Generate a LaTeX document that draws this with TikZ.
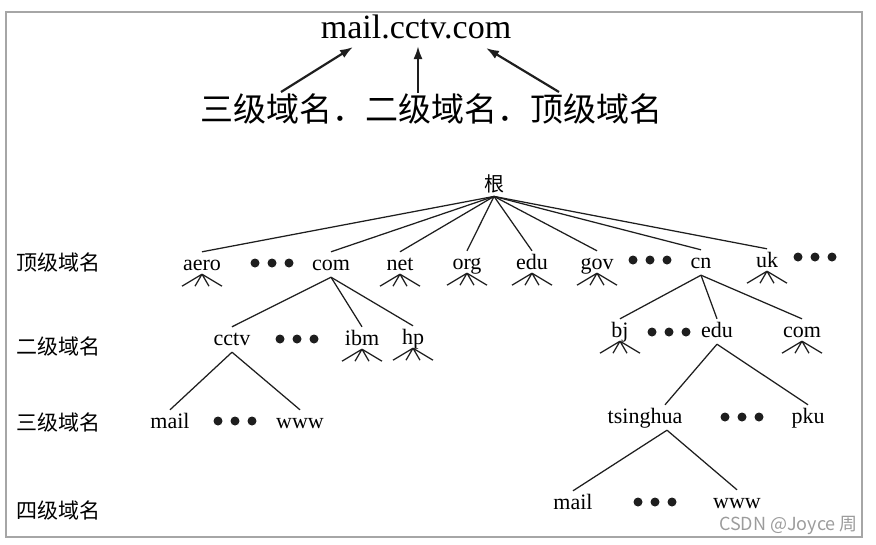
\documentclass[tikz,border=0pt]{standalone}
\usepackage{fontspec}
\setmainfont{Liberation Serif}
\newfontfamily\cjk{Noto Sans CJK SC}
\usetikzlibrary{arrows.meta}
\definecolor{framegray}{HTML}{A6A6A6}
\definecolor{markgray}{HTML}{9C9C9C}
\definecolor{inkline}{HTML}{1E1E1E}

\begin{document}
\begin{tikzpicture}[x=1pt,y=-1pt, >={Latex[length=13pt,width=9pt]}, every node/.style={inner sep=2pt},
  dom/.style={font=\fontsize{22}{24}\selectfont,anchor=base,text height=16pt,text depth=5pt},
  lvl/.style={font=\cjk\fontsize{21}{24}\selectfont,anchor=west},
  tree/.style={draw=inkline,line width=1.25pt},
  pointer/.style={draw=inkline,line width=2.2pt,->}]
\useasboundingbox (0,0) rectangle (876,544);
\draw[framegray,line width=1.2pt] (6,12) rectangle (862,537);
% name and its parts
\node[font=\fontsize{34}{38}\selectfont] (name) at (416,27) {mail.cctv.com};
\node[font=\cjk\fontsize{33}{36}\selectfont] (parts) at (431,109) {三级域名．二级域名．顶级域名};
\coordinate (third) at (281,92);\coordinate (second) at (418,93);\coordinate (top) at (559,92);
\draw[pointer] (third)--(353,47);\draw[pointer] (second)--(418,46);\draw[pointer] (top)--(486,48);
% level labels
\node[lvl] (l1) at (14,263) {顶级域名};
\node[lvl] (l2) at (14,347) {二级域名};
\node[lvl] (l3) at (14,423) {三级域名};
\node[lvl] (l4) at (14,511) {四级域名};
% tree
\node[font=\cjk\fontsize{20}{22}\selectfont,inner sep=3pt] (root) at (494,184) {根};
\node[dom] (aero) at (202,270) {aero};
\node[dom] (com) at (331,270) {com};
\node[dom] (net) at (400,270) {net};
\node[dom] (org) at (467,269) {org};
\node[dom] (edu) at (532,269) {edu};
\node[dom] (gov) at (597,269) {gov};
\node[dom] (cn) at (701,268) {cn};
\node[dom] (uk) at (767,267) {uk};
\node[dom] (cctv) at (232,345) {cctv};
\node[dom] (ibm) at (362,345) {ibm};
\node[dom] (hp) at (413,344) {hp};
\node[dom] (bj) at (620,337) {bj};
\node[dom] (cnedu) at (717,337) {edu};
\node[dom] (cncom) at (802,337) {com};
\node[dom] (mailA) at (170,428) {mail};
\node[dom] (wwwA) at (300,428) {www};
\node[dom] (tsinghua) at (645,423) {tsinghua};
\node[dom] (pku) at (808,423) {pku};
\node[dom] (mailB) at (573,509) {mail};
\node[dom] (wwwB) at (737,508) {www};
\foreach \n in {aero,com,net,org,edu,gov,cn,uk} \draw[tree] (root.south)--(\n.north);
\foreach \n in {cctv,ibm,hp} \draw[tree] (com.south)--(\n.north);
\foreach \n in {bj,cnedu,cncom} \draw[tree] (cn.south)--(\n.north);
\draw[tree] (cctv.south)--(mailA.north);\draw[tree] (cctv.south)--(wwwA.north);
\draw[tree] (cnedu.south)--([xshift=20pt]tsinghua.north);\draw[tree] (cnedu.south)--(pku.north);
\draw[tree] ([xshift=22pt]tsinghua.south)--(mailB.north);\draw[tree] ([xshift=22pt]tsinghua.south)--(wwwB.north);
% subtrees not shown
\foreach \n in {aero,net,org,edu,gov,uk,ibm,hp,bj,cncom}
  \draw[tree] ([yshift=3pt]\n.south)--++(-20,12) ([yshift=3pt]\n.south)--++(-7,12) ([yshift=3pt]\n.south)--++(7,12) ([yshift=3pt]\n.south)--++(20,12);
% ellipses
\foreach \x/\y in {272/263,297/339,235/421,650/260,815/257,669/332,742/417,655/502}
  \foreach \d in {-17,0,17} \fill[inkline] (\x+\d,\y) circle (4.5pt);
\node[font=\cjk\fontsize{18}{20}\selectfont,text=markgray,anchor=base east] (mark) at (860,530) {CSDN @Joyce 周};
\end{tikzpicture}
\end{document}
